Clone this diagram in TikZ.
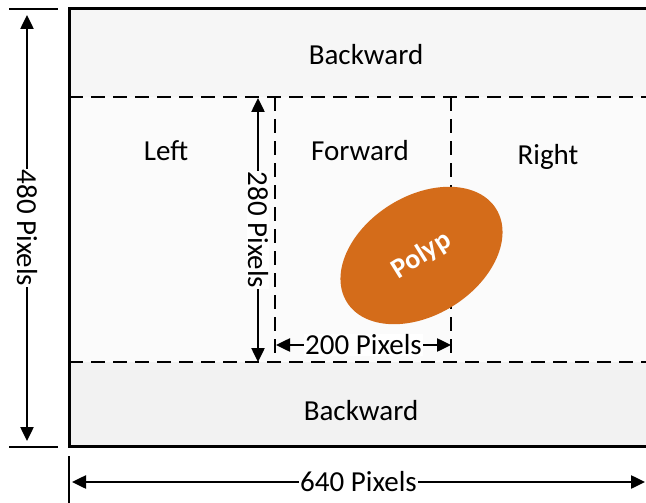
\documentclass[tikz,border=0pt]{standalone}
\usepackage{fontspec}
\setmainfont{Carlito}
\usetikzlibrary{arrows.meta}
\usetikzlibrary{shapes.geometric}

\definecolor{polypfill}{RGB}{212,108,26}
\tikzset{
  zone/.style={font=\fontsize{29}{34}\selectfont},
  dimline/.style={line width=2.5pt,
    {Triangle[length=14pt,width=13pt]}-{Triangle[length=14pt,width=13pt]}},
  dimlabel/.style={font=\fontsize{29}{34}\selectfont, fill=white, inner sep=1pt},
  frameline/.style={line width=3pt},
  tickline/.style={line width=2.5pt},
  splitline/.style={line width=2.2pt, dash pattern=on 14pt off 8pt},
  polypshape/.style={ellipse, fill=polypfill, inner sep=0pt,
    minimum width=176pt, minimum height=119pt, text=white,
    font=\bfseries\fontsize{28}{32}\selectfont},
}

\begin{document}
\begin{tikzpicture}[x=1pt,y=-1pt]
    \useasboundingbox (0,0) rectangle (646,503);
    % bands
    \fill[gray!7] (69,9) rectangle (646,97);
    \fill[gray!3] (69,97) rectangle (646,362);
    \fill[gray!10] (69,362) rectangle (646,446);
    % frame
    \coordinate (frTR) at (646,9);
    \coordinate (frTL) at (69,9);
    \coordinate (frBL) at (69,446);
    \coordinate (frBR) at (646,446);
    \draw[frameline] (frTR) -- (frTL) -- (frBL) -- (frBR);
    % dashed splits
    \coordinate (upL) at (69,97);
    \coordinate (upR) at (646,97);
    \coordinate (loL) at (69,362);
    \coordinate (loR) at (646,362);
    \coordinate (fwTL) at (275,97);
    \coordinate (fwBL) at (275,362);
    \coordinate (fwTR) at (451,97);
    \coordinate (fwBR) at (451,362);
    \draw[splitline] (upL) -- (upR);
    \draw[splitline] (loL) -- (loR);
    \draw[splitline] (fwTL) -- (fwBL);
    \draw[splitline] (fwTR) -- (fwBR);
    % zones
    \node[zone] (backtop) at (366,55) {Backward};
    \node[zone] (left) at (166,151) {Left};
    \node[zone] (forward) at (360,151) {Forward};
    \node[zone] (right) at (548,157) {Right};
    \node[zone] (backbot) at (361,411) {Backward};
    % polyp
    \node[polypshape, rotate=32] (polyp) at (421.5,255.5) {Polyp};
    % 480 pixels
    \coordinate (hTopA) at (9,9);
    \coordinate (hTopB) at (58,9);
    \coordinate (hBotA) at (9,447);
    \coordinate (hBotB) at (58,447);
    \coordinate (hUp) at (27,15);
    \coordinate (hDown) at (27,441);
    \draw[tickline] (hTopA) -- (hTopB);
    \draw[tickline] (hBotA) -- (hBotB);
    \draw[dimline] (hUp) -- node[dimlabel, rotate=-90] (lbl480) {480 Pixels} (hDown);
    % 280 pixels
    \coordinate (fUp) at (258,98);
    \coordinate (fDown) at (258,362);
    \draw[dimline] (fUp) -- node[dimlabel, rotate=-90] (lbl280) {280 Pixels} (fDown);
    % 200 pixels
    \coordinate (wLeft) at (276,345);
    \coordinate (wRight) at (451,345);
    \draw[dimline] (wLeft) -- node[dimlabel] (lbl200) {200 Pixels} (wRight);
    % 640 pixels
    \coordinate (vTickA) at (69,456);
    \coordinate (vTickB) at (69,503);
    \coordinate (bLeft) at (72,482);
    \coordinate (bRight) at (645,482);
    \draw[tickline] (vTickA) -- (vTickB);
    \draw[dimline] (bLeft) -- node[dimlabel] (lbl640) {640 Pixels} (bRight);
\end{tikzpicture}
\end{document}
